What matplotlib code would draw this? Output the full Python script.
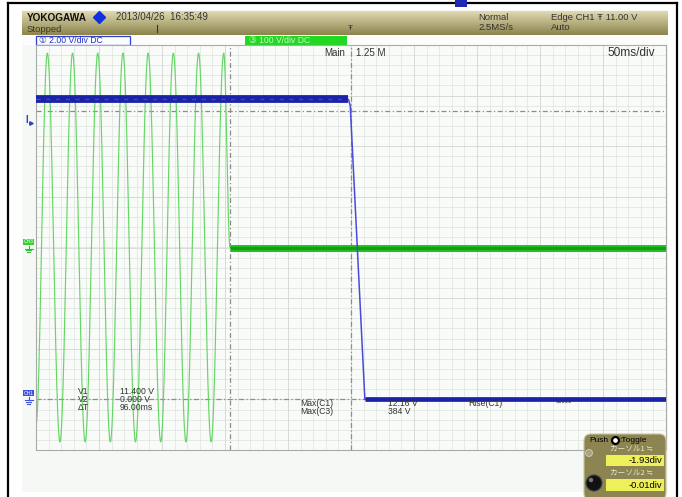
import numpy as np
import matplotlib.pyplot as plt
from matplotlib.patches import Rectangle, FancyBboxPatch, Circle

W, H = 682, 497

# scope settings
t_div = 50.0        # ms/div
ch1_vdiv = 2.0      # V/div
ch3_vdiv = 100.0    # V/div
ch1_pos = -3.0      # ground marker, div
ch3_pos = 0.0

# CH1: gate/drive voltage (ms, V)
ch1_t = [-250.0, -2.0, -0.6, 11.0, 250.0]
ch1_v = [11.85, 11.85, 11.6, 0.0, 0.0]

# CH3: line voltage, extrema (ms, V)
ch3_t = [-250.0, -241.0, -231.0, -221.0, -211.0, -201.0, -191.0, -181.0, -171.0,
         -161.0, -151.0, -141.0, -131.0, -121.0, -111.0, -101.0, -96.0]
ch3_v = [-350, 384, -384, 384, -384, 384, -384, 384, -384,
         384, -384, 384, -384, 384, -384, 384, 0]
ch3_off_t = [-96.0, 250.0]
ch3_off_v = [0.0, 0.0]

# cursors
v1, v2 = 11.400, 0.000
cur_t = [-96.0, 0.0]
trig_level = 11.00

meas_names = ['V1', 'V2', '\u0394T']
meas_vals = ['11.400 V', '0.000 V', '96.00ms']
max_names = ['Max(C1)', 'Max(C3)']
max_vals = ['12.16 V', '384 V']

plt.rcParams['font.family'] = ['Liberation Sans', 'DejaVu Sans']

fig = plt.figure(figsize=(W / 100, H / 100), dpi=100)
bg = fig.add_axes([0, 0, 1, 1], zorder=0)
bg.set_xlim(0, W)
bg.set_ylim(H, 0)
bg.axis('off')

# screen
bg.add_patch(Rectangle((22, 10), 646, 482, color='#f6f8f6', lw=0))
# header gradient
grad = np.linspace(0, 1, 50)[:, None]
top = np.array([224, 217, 178]) / 255
bot = np.array([140, 132, 76]) / 255
img = top[None, None, :] * (1 - grad[..., None]) + bot[None, None, :] * grad[..., None]
img = np.repeat(img, 2, axis=1)
bg.imshow(img, extent=(22, 668, 35, 11), aspect='auto', zorder=1)
bg.add_patch(Rectangle((22, 35), 646, 10, color='#fbfcfb', lw=0, zorder=1))

# outer frame of the page
bg.plot([8, 677], [3, 3], color='black', lw=1.6, zorder=5)
bg.plot([8, 8], [3, 497], color='black', lw=1.6, zorder=5)
bg.plot([677, 677], [3, 497], color='black', lw=1.6, zorder=5)
bg.add_patch(Rectangle((455, 0), 12, 7, color='#1e2ab4', lw=0, zorder=6))

# header text
bg.text(27, 18, 'YOKOGAWA', fontsize=7.2, fontweight='bold', color='#111111',
        va='center', zorder=3)
bg.plot(99, 17, marker='D', ms=6, color='#1030e0', zorder=3)
bg.text(116, 17, '2013/04/26  16:35:49', fontsize=7.0, color='#333333', va='center', zorder=3)
bg.text(27, 29, 'Stopped', fontsize=6.8, color='#3a3a20', va='center', zorder=3)
bg.plot([157, 157], [25, 32], color='#333333', lw=0.8, zorder=3)
bg.text(350, 28, '\u0166', fontsize=6, color='#333333', va='center', ha='center', zorder=3)
bg.text(478, 17, 'Normal', fontsize=6.8, color='#333333', va='center', zorder=3)
bg.text(478, 28, '2.5MS/s', fontsize=6.8, color='#333333', va='center', zorder=3)
bg.text(551, 17, 'Edge CH1 \u0166 11.00 V', fontsize=6.8, color='#333333', va='center', zorder=3)
bg.text(551, 28, 'Auto', fontsize=6.8, color='#333333', va='center', zorder=3)

# channel strip
bg.add_patch(Rectangle((36, 36), 94, 9, fill=False, ec='#3040d0', lw=0.9, zorder=3))
bg.text(39, 40.5, '\u2460 2.00 V/div DC', fontsize=6.2, color='#2030d0', va='center', zorder=4)
bg.add_patch(Rectangle((245, 36), 102, 9, color='#22d822', lw=0, zorder=3))
bg.text(249, 40.5, '\u2462 100 V/div DC', fontsize=6.2, color='#c8f8c8', va='center', zorder=4)

# waveform grid
x0, x1, y0, y1 = 36, 666, 45, 450
ax = fig.add_axes([x0 / W, 1 - y1 / H, (x1 - x0) / W, (y1 - y0) / H], zorder=1)
ax.set_facecolor('#f9fbf9')
ax.set_xlim(-5 * t_div, 5 * t_div)
ax.set_ylim(-4, 4)
for t in np.arange(-250, 251, 10):
    ax.axvline(t, color='#dfe3df', lw=0.5, zorder=0)
for d in np.arange(-4, 4.01, 0.2):
    ax.axhline(d, color='#dfe3df', lw=0.5, zorder=0)
for t in np.arange(-250, 251, 50):
    ax.axvline(t, color='#d4d9d4', lw=0.6, zorder=0)
for d in range(-4, 5):
    ax.axhline(d, color='#d4d9d4', lw=0.6, zorder=0)
ax.set_xticks([])
ax.set_yticks([])
for s in ax.spines.values():
    s.set_color('#a8aca8')
    s.set_linewidth(0.8)

def ch1(v):
    return np.asarray(v) / ch1_vdiv + ch1_pos

def ch3(v):
    return np.asarray(v) / ch3_vdiv + ch3_pos

# cursors
for t in cur_t:
    ax.axvline(t, color='#8c8c8c', lw=0.9, ls=(0, (4, 2, 1, 2)), zorder=1)
for v in (v1, v2):
    ax.axhline(ch1(v), color='#8c8c8c', lw=0.9, ls=(0, (4, 2, 1, 2)), zorder=1)

# CH3 trace, half-cosine between extrema
tt, vv = [], []
for i in range(len(ch3_t) - 1):
    s = np.linspace(0, 1, 40)
    tt.append(ch3_t[i] + (ch3_t[i + 1] - ch3_t[i]) * s)
    vv.append(ch3_v[i] + (ch3_v[i + 1] - ch3_v[i]) * (1 - np.cos(np.pi * s)) / 2)
ax.plot(np.concatenate(tt), ch3(np.concatenate(vv)), color='#66d666', lw=0.85, zorder=2)
ax.plot(ch3_off_t, ch3(ch3_off_v), color='#22c022', lw=5.0, solid_capstyle='butt', zorder=3)
ax.plot(ch3_off_t, ch3(ch3_off_v), color='#0ea00e', lw=2.0, solid_capstyle='butt', zorder=3)

# CH1 trace
ax.plot(ch1_t, ch1(ch1_v), color='#4a4ad8', lw=1.1, zorder=4)
ax.plot(ch1_t[:2], ch1(ch1_v[:2]), color='#1a22a8', lw=5.6, solid_capstyle='butt', zorder=4)
ax.plot(ch1_t[:2], ch1(ch1_v[:2]), color='#3a48c8', lw=1.0, ls=(0, (3, 4)), zorder=4)
ax.plot(ch1_t[-2:], ch1(ch1_v[-2:]), color='#1a22a8', lw=3.4, solid_capstyle='butt', zorder=4)

# overlay in screen pixels
fg = fig.add_axes([0, 0, 1, 1], zorder=2)
fg.set_xlim(0, W)
fg.set_ylim(H, 0)
fg.axis('off')
fg.patch.set_alpha(0)

def ypix(d):
    return y0 + (4 - d) * (y1 - y0) / 8

def ground(x, y, color):
    # small earth symbol drawn with lines
    fg.plot([x, x], [y - 3, y], color=color, lw=0.8)
    for k, hw in enumerate([4.0, 2.6, 1.2]):
        fg.plot([x - hw, x + hw], [y + 1.6 * k, y + 1.6 * k], color=color, lw=0.8)

fg.text(345, 53, 'Main', fontsize=7, color='#333333', va='center', ha='right')
fg.text(356, 53, '1.25 M', fontsize=7, color='#333333', va='center')
fg.text(608, 53, '50ms/div', fontsize=8.6, color='#333333', va='center')

# channel markers on the left edge
fg.text(25, ypix(ch1(trig_level)) - 1, 'I', fontsize=7, fontweight='bold', color='#3040d0', va='center')
fg.plot(31, ypix(ch1(trig_level)) + 2, marker='>', ms=2.5, color='#3040d0')
fg.add_patch(Rectangle((23, ypix(ch3_pos) - 9), 11, 6, color='#30d030', lw=0))
fg.text(28.5, ypix(ch3_pos) - 6, 'CH3', fontsize=3.6, color='white', va='center', ha='center')
ground(28.5, ypix(ch3_pos) + 1, '#30c030')
fg.add_patch(Rectangle((23, ypix(ch1_pos) - 9), 11, 6, color='#4050e0', lw=0))
fg.text(28.5, ypix(ch1_pos) - 6, 'CH1', fontsize=3.6, color='white', va='center', ha='center')
ground(28.5, ypix(ch1_pos) + 1, '#4050e0')

# cursor readout
for i, (n, v) in enumerate(zip(meas_names, meas_vals)):
    fg.text(78, 392 + 8 * i, n, fontsize=6.2, color='#333333', va='center')
    fg.text(120, 392 + 8 * i, v, fontsize=6.2, color='#333333', va='center')
for i, (n, v) in enumerate(zip(max_names, max_vals)):
    fg.text(300, 403 + 8 * i, n, fontsize=6.2, color='#333333', va='center')
    fg.text(388, 403 + 8 * i, v, fontsize=6.2, color='#333333', va='center')
fg.text(468, 403, 'Rise(C1)', fontsize=6.2, color='#333333', va='center')
fg.text(556, 403, '*****', fontsize=6.2, color='#333333', va='center')

# jog panel
fg.add_patch(FancyBboxPatch((584, 434), 82, 66, boxstyle='round,pad=0,rounding_size=7',
                            fc='#8c8552', ec='#c8c49a', lw=0.8))
fg.text(589, 440, 'Push', fontsize=6.0, color='black', va='center')
fg.plot(615, 440, marker='o', ms=5, mfc='white', mec='black', mew=1.6)
fg.text(619, 440, ':Toggle', fontsize=6.0, color='black', va='center')
jp = ['Noto Sans CJK JP', 'DejaVu Sans']
fg.text(610, 449, '\u30ab\u30fc\u30bd\u30eb1 \u2252', fontsize=5.5, color='#e8e8d0', va='center', family=jp)
fg.add_patch(Rectangle((606, 455), 58, 11, color='#eef05a', lw=0))
fg.text(662, 460.5, '-1.93div', fontsize=6.8, color='black', va='center', ha='right')
fg.text(610, 473, '\u30ab\u30fc\u30bd\u30eb2 \u2252', fontsize=5.5, color='#e8e8d0', va='center', family=jp)
fg.add_patch(Rectangle((606, 479), 58, 12, color='#eef05a', lw=0))
fg.text(662, 485, '-0.01div', fontsize=6.8, color='black', va='center', ha='right')
fg.add_patch(Circle((589, 453), 3.5, fc='#a8a488', ec='#d0ccb0', lw=0.6))
fg.add_patch(Circle((594, 483), 8, fc='#111111', ec='#444444', lw=0.8))
fg.add_patch(Circle((591, 480), 2.2, fc='#777777', lw=0))

fig.savefig('out.png', dpi=100)
